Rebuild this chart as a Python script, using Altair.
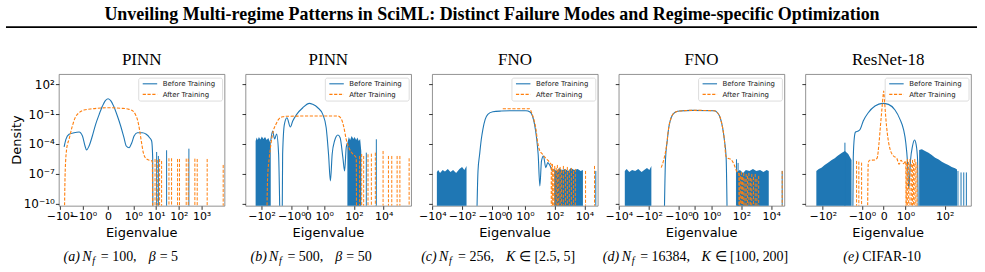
import math
import altair as alt
import pandas as pd

BLUE = "#1f77b4"
ORANGE = "#ff7f0e"
SANS = "DejaVu Sans"
SERIF = "Liberation Serif"
W, H = 166, 132          # plot area of every panel
GAP = 21                 # space between panels
LEFT, TOP = 58, 73       # position of the first plot area on the page
Y_LO, Y_HI = 10 ** -10.2, 10 ** 3.0
FLOOR = 1e-14            # density used as the floor of the filled spectra
DASH = [3.2, 1.6]

# ---------------------------------------------------------------------------
# Spectral densities: eigenvalue positions and log10(density).
# -14 marks a point where the density vanishes (drawn below the axis).
# ---------------------------------------------------------------------------

# (a) PINN, N_f = 100, beta = 5
a_before_x = [-6.6, -5.5, -4.0, -2.4, -1.45, -1.03, -0.91, -0.85, -0.75, -0.62, -0.49, -0.35,
              -0.22, -0.12, 0.0, 0.12, 0.22, 0.37, 0.5, 0.63, 0.72, 0.83, 0.94, 1.08, 1.5,
              2.5, 3.7, 5.2, 6.4, 7.1, 7.3]
a_before_e = [-4.3, -3.53, -3.03, -2.87, -2.8, -3.2, -4.2, -4.6, -4.2, -3.2, -2.03, -1.03,
              -0.2, 0.3, 0.53, 0.3, -0.2, -1.2, -2.2, -3.37, -4.2, -4.37, -3.87, -3.2, -2.87,
              -2.87, -3.03, -3.37, -3.7, -5.37, -14]
a_before_spk_x = [10.6, 12.6, 29, 277]
a_before_spk_e = [-4.8, -5.2, -4.63, -4.47]
a_after_x = [-6.6, -5.9, -5.0, -4.0, -3.0, -2.16, -1.45, -0.95, -0.62, 0.0, 0.57, 0.83, 0.99,
             1.23, 1.58, 1.86, 2.3, 2.75, 3.5, 5.1, 6.8, 7.2]
a_after_e = [-14, -6.7, -4.37, -3.53, -2.37, -1.37, -0.87, -0.6, -0.47, -0.37, -0.43, -0.53,
             -0.7, -1.03, -1.7, -2.53, -3.87, -4.87, -5.43, -5.63, -5.7, -14]
a_after_spk_x = [9.0, 11.3, 14.3, 17.5, 36.8, 48, 88, 107, 211, 259, 507, 642, 1760, 8900]
a_after_spk_e = [-5.5, -5.6, -5.5, -5.7, -5.43, -5.43, -5.5, -5.5, -5.47, -5.47, -5.47, -5.5,
                 -5.5, -6.1]

# (b) PINN, N_f = 500, beta = 50
b_comb1_x = [-250, -210, -180, -150, -120, -95, -75, -58, -45, -35, -27, -24]
b_comb1_e = [-3.7, -3.35, -3.6, -3.3, -3.55, -3.25, -3.5, -3.3, -3.6, -3.4, -3.8, -3.7]
b_comb2_x = [36, 45, 55, 70, 90, 110, 140, 170, 210, 260, 310]
b_comb2_e = [-3.9, -3.3, -3.6, -3.2, -3.5, -3.3, -3.6, -3.35, -3.7, -3.5, -4.7]
b_before_x = [-24, -18, -13.2, -9.6, -7.1, -5.1, -4.2, -3.8, -2.9, -1.95, -1.15, -0.91, -0.67,
              -0.3, 0.1, 0.3, 0.61, 0.91, 1.35, 1.94, 2.6, 3.4, 4.9, 8.3, 11.7, 17.9, 23.4,
              30, 36]
b_before_e = [-3.7, -2.7, -3.5, -3.0, -5.0, -14, -14, -5.03, -2.03, -1.37, -2.3, -1.7, -1.03,
              -0.37, 0.07, -0.03, -0.37, -1.03, -2.37, -5.03, -7.7, -5.03, -3.7, -3.1, -3.37,
              -5.37, -6.7, -4.37, -3.9]
b_before_spk_x = [675, 3200]
b_before_spk_e = [-4.87, -3.53]
b_after_x = [-46, -39, -30, -23.4, -16.2, -10.7, -7.1, -3.8, -2.0, 0.1, 8.3, 13.8, 20, 30, 51,
             85, 142, 150]
b_after_e = [-14, -7.37, -5.37, -4.03, -2.7, -2.03, -1.53, -1.27, -1.22, -1.2, -1.2, -1.47,
             -2.2, -3.53, -4.53, -5.03, -5.37, -14]
b_after_spk_x = [240, 330, 450, 880, 1480, 2740, 9100, 20900, 35000, 80000, 123000, 515000]
b_after_spk_e = [-5.2, -5.0, -5.2, -5.03, -4.97, -4.87, -4.7, -5.2, -5.2, -5.2, -5.2, -5.43]

# (c) FNO, N_f = 256, K in [2.5, 5]
c_comb1_x = [-4900, -4000, -3000, -2000, -1400, -900, -600, -400, -250, -150, -100, -70, -50]
c_comb1_e = [-6.8, -6.6, -6.9, -6.6, -6.75, -6.5, -6.8, -6.6, -6.9, -6.5, -6.3, -6.6, -6.2]
c_comb2_x = [91, 130, 200, 300, 500, 800, 1200, 2000, 3500, 5500, 7800]
c_comb2_e = [-6.5, -6.7, -6.4, -6.6, -6.5, -6.7, -6.4, -6.6, -6.5, -6.7, -6.6]
c_before_x = [-11, -8.5, -6.6, -5.1, -4.0, -2.8, -1.86, -0.94, -0.44, 0.26, 1.17, 2.2, 3.2, 4.4,
              6.0, 7.7, 10, 12.9, 17.5, 25, 34, 49, 70, 91]
c_before_e = [-14, -6.7, -5.03, -3.53, -2.53, -1.53, -1.03, -0.77, -0.7, -0.67, -0.67, -0.8,
              -1.2, -2.03, -3.37, -5.03, -8.2, -5.7, -5.2, -6.37, -5.87, -6.2, -6.7, -6.5]
c_before_spk_x = [57000]
c_before_spk_e = [-6.7]
c_after_x = [-0.34, 2.05, 2.8, 4.2, 5.5, 6.9, 9.1, 15, 25, 42, 63, 66]
c_after_e = [-0.47, -0.47, -0.87, -1.7, -2.53, -3.7, -4.53, -5.03, -5.43, -5.77, -6.2, -14]
c_after_spk_x = [58, 70, 85, 100, 125, 150, 185, 230, 290, 380, 520, 700, 950, 1300, 1800,
                 2400, 11700, 46700]
c_after_spk_e = [-6.3, -6.0, -6.5, -6.2, -6.4, -6.1, -6.5, -6.3, -6.6, -6.2, -6.5, -6.3, -6.6,
                 -6.4, -6.7, -6.5, -6.7, -6.2]

# (d) FNO, N_f = 16384, K in [100, 200]
d_comb1_x = [-4000, -3000, -2000, -1300, -800, -500, -300, -200, -130, -90, -66]
d_comb1_e = [-6.7, -6.5, -6.8, -6.6, -6.7, -6.5, -6.8, -6.6, -6.4, -6.6, -6.2]
d_comb2_x = [50, 80, 130, 200, 350, 600, 1000, 1800, 3000, 5000, 6900]
d_comb2_e = [-6.8, -6.6, -6.9, -6.6, -6.7, -6.5, -6.7, -6.6, -6.8, -6.6, -6.7]
d_before_x = [-9.5, -7.4, -5.7, -4.5, -3.1, -1.86, -0.94, -0.14, 1.5, 2.5, 3.8, 5.5, 7.4, 9.5,
              11.7]
d_before_e = [-14, -5.53, -3.7, -2.37, -1.37, -0.87, -0.7, -0.63, -0.67, -0.87, -1.37, -2.37,
              -3.7, -5.37, -14]
d_before_spk_x = [47, 60, 55000]
d_before_spk_e = [-5.53, -5.9, -6.7]
d_after_x = [-14.4, -9.5, -6.6, -4.5, -3.1, -1.86, -0.94, -0.14, 1.5, 2.5, 3.8, 5.5, 7.4, 9.1,
             12.3, 19.5, 32, 47, 69, 72]
d_after_e = [-6.37, -5.53, -4.37, -2.37, -1.37, -0.87, -0.7, -0.63, -0.67, -0.87, -1.37, -2.37,
             -3.7, -5.2, -5.43, -5.53, -6.03, -6.7, -7.03, -14]
d_after_spk_x = [72, 85, 100, 120, 145, 175, 210, 260, 320, 400, 500, 650, 850, 1100, 1450,
                 55000]
d_after_spk_e = [-6.9, -7.2, -6.8, -7.3, -6.9, -7.5, -7.0, -7.2, -6.9, -7.4, -7.0, -7.3, -7.0,
                 -7.5, -7.2, -6.7]

# (e) ResNet-18, CIFAR-10
e_comb1_x = [-213, -160, -117, -80, -54, -35, -24.5, -18, -13.5, -10, -7.4, -5.0, -3.4]
e_comb1_e = [-6.7, -6.5, -6.37, -6.1, -5.87, -5.6, -5.43, -5.2, -5.03, -4.85, -4.7, -5.0, -5.6]
e_comb2_x = [5.0, 6.9, 10, 15, 22, 33, 50, 72, 105, 155, 230, 340, 430]
e_comb2_e = [-4.6, -4.53, -4.7, -4.87, -5.1, -5.37, -5.55, -5.77, -5.95, -6.1, -6.3, -6.43,
             -6.55]
e_before_x = [-3.0, -2.77, -2.45, -2.12, -1.55, -1.23, -0.94, -0.71, -0.4, -0.06, 0.22, 0.52,
              0.75, 0.91, 1.04, 1.26, 1.48, 1.8, 2.3, 2.9, 3.5, 4.2, 4.7]
e_before_e = [-14, -5.37, -3.37, -2.8, -2.7, -2.53, -1.7, -0.87, -0.2, 0.07, -0.03, -0.6,
              -1.53, -2.53, -3.87, -5.7, -8.53, -5.7, -4.2, -3.6, -4.03, -5.7, -14]
e_before_spk_x = [-7.4, 480, 690, 950, 1290]
e_before_spk_e = [-3.87, -6.7, -6.85, -6.85, -6.85]
e_after_x = [-0.75, -0.71, -0.65, -0.4, -0.3, -0.22, -0.15, -0.09, -0.05, -0.02, 0.0, 0.02,
             0.05, 0.09, 0.17, 0.29, 0.45, 0.6, 0.71, 0.8, 0.91, 1.04, 1.1]
e_after_e = [-14, -5.9, -5.63, -5.6, -5.4, -4.03, -2.2, -0.7, 0.3, 1.0, 1.3, 1.0, 0.0, -1.2,
             -3.0, -4.5, -5.2, -5.43, -6.03, -5.63, -5.97, -5.7, -14]
e_after_spk_x = [-1.88, -1.44, -1.04, 1.1, 1.25, 1.45, 1.7, 2.0, 2.3, 2.6, 3.0, 3.4, 3.9]
e_after_spk_e = [-5.7, -5.77, -5.87, -5.9, -5.5, -5.8, -5.5, -6.0, -5.6, -5.9, -5.5, -5.8, -6.1]

# Axis ticks (eigenvalues) and their labels
ticks_a = [-10, -1, 0, 1, 10, 100, 1000]
labels_a = ["−10¹", "−10⁰", "0", "10⁰", "10¹", "10²", "10³"]
ticks_b = [-100, -1, 0, 1, 100, 10000]
labels_b = ["−10²", "−10⁰", "0", "10⁰", "10²", "10⁴"]
ticks_cd = [-10000, -100, -1, 0, 1, 100, 10000]
labels_cd = ["−10⁴", "−10²", "−10⁰", "0", "10⁰", "10²", "10⁴"]
ticks_e = [-100, -1, 0, 1, 100]
labels_e = ["−10²", "−10⁰", "0", "10⁰", "10²"]
y_ticks = [1e2, 1e-1, 1e-4, 1e-7, 1e-10]
y_labels = ["10²", "10⁻¹", "10⁻⁴", "10⁻⁷", "10⁻¹⁰"]


def symlog(v, linthresh=1.0, linscale=1.0):
    """Symmetric-log transform (base 10) used for the eigenvalue axis."""
    adj = linscale / (1.0 - 1.0 / 10.0)
    a = abs(v)
    if a <= linthresh:
        return v * adj
    return math.copysign(linthresh * (adj + math.log10(a / linthresh)), v)


def frame(xs, es):
    return pd.DataFrame({"u": [symlog(x) for x in xs],
                         "d": [10.0 ** e for e in es],
                         "lo": [FLOOR] * len(xs)})


def x_label_expr(ticks, labels):
    vals = [symlog(t) for t in ticks]
    expr = ""
    for i in range(len(vals) - 1):
        mid = (vals[i] + vals[i + 1]) / 2
        expr += f"datum.value < {mid:.4f} ? '{labels[i]}' : "
    return expr + f"'{labels[-1]}'"


def y_label_expr():
    expr = ""
    for i in range(len(y_ticks) - 1):
        mid = math.sqrt(y_ticks[i] * y_ticks[i + 1])
        expr += f"datum.value > {mid:.3e} ? '{y_labels[i]}' : "
    return expr + f"'{y_labels[-1]}'"


def text(s, x, y, size, font=SANS, style="normal", weight="normal", align="left",
         angle=0, color="black"):
    return alt.Chart().mark_text(
        text=s, font=font, fontSize=size, fontStyle=style, fontWeight=weight,
        align=align, baseline="alphabetic", angle=angle, color=color,
    ).encode(x=alt.value(x), y=alt.value(y))


def caption(pieces, left):
    out = []
    for s, xa, kind in pieces:
        x = xa - left
        if kind == "sub":
            out.append(text(s, x, 260 - TOP + 3, 10, SERIF, "italic"))
        elif kind == "it":
            out.append(text(s, x, 260 - TOP, 14, SERIF, "italic"))
        else:
            out.append(text(s, x, 260 - TOP, 14, SERIF))
    return out


def panel(left, dom, ticks, labels, combs, before, before_spk, after, after_spk,
          title, cap, first=False):
    xs = alt.X("u:Q", scale=alt.Scale(domain=dom, nice=False, zero=False),
               axis=alt.Axis(values=[symlog(t) for t in ticks],
                             labelExpr=x_label_expr(ticks, labels), title=None,
                             grid=False, domain=False, tickSize=3.5, tickWidth=0.8,
                             tickColor="black", labelFont=SANS, labelFontSize=11,
                             labelColor="black", labelPadding=1.5, labelOverlap=False,
                             labelFlush=False, labelBound=False))
    ys = alt.Y("d:Q", scale=alt.Scale(type="log", domain=[Y_LO, Y_HI], nice=False),
               axis=alt.Axis(values=y_ticks, labelExpr=y_label_expr(), labels=first,
                             title=None, grid=False, domain=False, tickSize=3.5,
                             tickWidth=0.8, tickColor="black", labelFont=SANS,
                             labelFontSize=12, labelColor="black", labelPadding=1,
                             labelOverlap=False, labelFlush=False, labelBound=False))
    layers = []
    if first:
        # page anchor, heading and rule under it
        layers.append(alt.Chart().mark_rect(fill="white", fillOpacity=0, strokeOpacity=0).encode(
            x=alt.value(-LEFT), x2=alt.value(985 - LEFT),
            y=alt.value(-TOP), y2=alt.value(272 - TOP)))
        layers.append(text("Unveiling Multi-regime Patterns in SciML: Distinct Failure Modes "
                           "and Regime-specific Optimization", 492 - LEFT, 19 - TOP, 18,
                           SERIF, weight="bold", align="center"))
        layers.append(alt.Chart().mark_rule(color="black", strokeWidth=1.8).encode(
            x=alt.value(5 - LEFT), x2=alt.value(978 - LEFT), y=alt.value(26 - TOP)))
        layers.append(text("Density", 20.5 - LEFT, H / 2, 13, SANS, align="center", angle=270))
    for cx, ce in combs:
        layers.append(alt.Chart(frame(cx, ce)).mark_area(
            color=BLUE, clip=True, interpolate="linear").encode(
            x=xs, y=ys, y2="lo:Q"))
    layers.append(alt.Chart(frame(*before)).mark_line(
        color=BLUE, strokeWidth=1.1, clip=True, interpolate="monotone").encode(x=xs, y=ys))
    layers.append(alt.Chart(frame(*before_spk)).mark_rule(
        color=BLUE, strokeWidth=1.0, clip=True).encode(x=xs, y=ys, y2=alt.value(H)))
    layers.append(alt.Chart(frame(*after)).mark_line(
        color=ORANGE, strokeWidth=1.1, strokeDash=DASH, clip=True,
        interpolate="monotone").encode(x=xs, y=ys))
    layers.append(alt.Chart(frame(*after_spk)).mark_rule(
        color=ORANGE, strokeWidth=1.0, strokeDash=DASH, clip=True).encode(
        x=xs, y=ys, y2=alt.value(H)))
    # legend box
    layers.append(alt.Chart().mark_rect(fill="white", stroke="#d4d4d4", strokeWidth=0.8,
                                        cornerRadius=2).encode(
        x=alt.value(80), x2=alt.value(164), y=alt.value(4), y2=alt.value(27)))
    layers.append(alt.Chart().mark_rule(color=BLUE, strokeWidth=1.1).encode(
        x=alt.value(84), x2=alt.value(98.5), y=alt.value(9.7)))
    layers.append(alt.Chart().mark_rule(color=ORANGE, strokeWidth=1.1, strokeDash=DASH).encode(
        x=alt.value(84), x2=alt.value(98.5), y=alt.value(20.3)))
    layers.append(text("Before Training", 104, 12.2, 7, SANS, color="#222"))
    layers.append(text("After Training", 104, 22.8, 7, SANS, color="#222"))
    # titles
    layers.append(text(title, W / 2, 64 - TOP, 17, SERIF, align="center"))
    layers.append(text("Eigenvalue", W / 2, 236 - TOP, 13, SANS, align="center"))
    layers += caption(cap, left)
    return alt.layer(*layers).properties(width=W, height=H)


lefts = [LEFT + i * (W + GAP) for i in range(5)]

panels = [
    panel(lefts[0], [-2.16, 5.12], ticks_a, labels_a, [],
          (a_before_x, a_before_e), (a_before_spk_x, a_before_spk_e),
          (a_after_x, a_after_e), (a_after_spk_x, a_after_spk_e), "PINN",
          [("(a)", 62.7, "it"), ("N", 81.5, "it"), ("f", 91.5, "sub"), ("= 100,", 100, "rm"),
           ("β", 148, "it"), ("= 5", 159, "rm")], first=True),
    panel(lefts[1], [-4.19, 6.96], ticks_b, labels_b,
          [(b_comb1_x, b_comb1_e), (b_comb2_x, b_comb2_e)],
          (b_before_x, b_before_e), (b_before_spk_x, b_before_spk_e),
          (b_after_x, b_after_e), (b_after_spk_x, b_after_spk_e), "PINN",
          [("(b)", 250, "it"), ("N", 268.5, "it"), ("f", 278.5, "sub"), ("= 500,", 287, "rm"),
           ("β", 335, "it"), ("= 50", 346, "rm")]),
    panel(lefts[2], [-5.12, 6.0], ticks_cd, labels_cd,
          [(c_comb1_x, c_comb1_e), (c_comb2_x, c_comb2_e)],
          (c_before_x, c_before_e), (c_before_spk_x, c_before_spk_e),
          (c_after_x, c_after_e), (c_after_spk_x, c_after_spk_e), "FNO",
          [("(c)", 421, "it"), ("N", 439, "it"), ("f", 449, "sub"), ("= 256,", 458, "rm"),
           ("K", 506, "it"), ("∈ [2.5, 5]", 519, "rm")]),
    panel(lefts[3], [-5.12, 6.0], ticks_cd, labels_cd,
          [(d_comb1_x, d_comb1_e), (d_comb2_x, d_comb2_e)],
          (d_before_x, d_before_e), (d_before_spk_x, d_before_spk_e),
          (d_after_x, d_after_e), (d_after_spk_x, d_after_spk_e), "FNO",
          [("(d)", 603, "it"), ("N", 622, "it"), ("f", 632, "sub"), ("= 16384,", 640.5, "rm"),
           ("K", 702, "it"), ("∈ [100, 200]", 715, "rm")]),
    panel(lefts[4], [-4.0, 4.46], ticks_e, labels_e,
          [(e_comb1_x, e_comb1_e), (e_comb2_x, e_comb2_e)],
          (e_before_x, e_before_e), (e_before_spk_x, e_before_spk_e),
          (e_after_x, e_after_e), (e_after_spk_x, e_after_spk_e), "ResNet-18",
          [("(e)", 844, "it"), ("CIFAR-10", 863, "rm")]),
]

chart = (
    alt.hconcat(*panels, spacing=GAP, bounds="flush")
    .properties(padding=0, background="white")
    .configure_view(stroke="#777", strokeWidth=0.8)
)

chart.save("out.html", embed_options={"renderer": "svg", "actions": False})
